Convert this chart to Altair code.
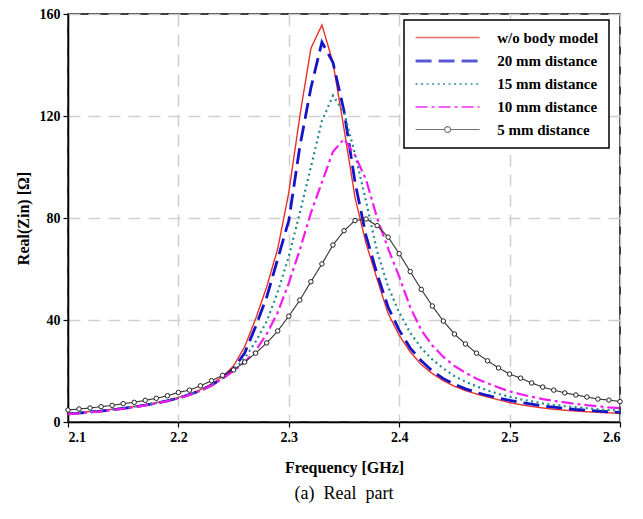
import altair as alt
import pandas as pd

freq = [2.10, 2.11, 2.12, 2.13, 2.14, 2.15, 2.16, 2.17, 2.18, 2.19,
        2.20, 2.21, 2.22, 2.23, 2.24, 2.25, 2.26, 2.27, 2.28, 2.29,
        2.30, 2.31, 2.32, 2.33, 2.34, 2.35, 2.36, 2.37, 2.38, 2.39,
        2.40, 2.41, 2.42, 2.43, 2.44, 2.45, 2.46, 2.47, 2.48, 2.49,
        2.50, 2.51, 2.52, 2.53, 2.54, 2.55, 2.56, 2.57, 2.58, 2.59,
        2.60]

wo_body = [3.4, 3.7, 4.1, 4.5, 5.0, 5.5, 6.1, 6.8, 7.6, 8.5,
           9.6, 11.0, 12.7, 14.9, 17.8, 22.0, 29.5, 40.5, 53.0, 68.0,
           90.0, 120.0, 146.5, 155.7, 141.0, 115.0, 88.0, 70.0, 56.0, 42.5,
           34.0, 27.5, 22.5, 19.0, 16.2, 14.0, 12.3, 11.0, 9.8, 8.7,
           7.6, 6.8, 6.1, 5.5, 5.0, 4.6, 4.3, 4.0, 3.8, 3.6,
           3.4]

d20 = [3.2, 3.5, 3.9, 4.3, 4.8, 5.3, 5.9, 6.6, 7.4, 8.3,
       9.4, 10.7, 12.3, 14.4, 17.2, 21.0, 27.0, 37.5, 49.0, 64.0,
       79.0, 108.0, 131.0, 149.0, 141.0, 122.0, 94.0, 73.0, 58.0, 45.0,
       36.0, 29.0, 24.0, 20.0, 17.0, 14.8, 13.0, 11.6, 10.4, 9.4,
       8.5, 7.7, 7.0, 6.3, 5.8, 5.3, 4.9, 4.6, 4.3, 4.0,
       3.8]

d15 = [3.3, 3.6, 4.0, 4.4, 4.9, 5.4, 6.0, 6.7, 7.5, 8.4,
       9.5, 10.8, 12.4, 14.5, 17.2, 20.5, 25.0, 31.5, 39.5, 51.0,
       65.0, 82.0, 100.0, 118.0, 128.0, 121.5, 105.0, 86.5, 67.0, 53.0,
       43.0, 35.0, 29.0, 24.5, 21.0, 18.0, 15.8, 14.0, 12.4, 11.0,
       9.9, 8.9, 8.1, 7.3, 6.7, 6.2, 5.8, 5.4, 5.0, 4.7,
       4.5]

d10 = [3.1, 3.4, 3.8, 4.2, 4.7, 5.2, 5.8, 6.5, 7.3, 8.2,
       9.3, 10.6, 12.2, 14.3, 17.0, 20.0, 23.5, 28.0, 34.5, 43.0,
       54.5, 67.5, 82.0, 94.0, 106.0, 111.0, 104.5, 95.0, 80.0, 68.0,
       57.0, 45.0, 36.0, 30.0, 25.5, 22.0, 19.3, 17.0, 15.2, 13.5,
       12.0, 10.9, 9.9, 9.0, 8.3, 7.7, 7.1, 6.6, 6.2, 5.7,
       5.4]

d5 = [4.7, 5.1, 5.5, 6.0, 6.5, 7.2, 7.7, 8.5, 9.3, 10.3,
      11.6, 12.5, 14.2, 16.2, 18.3, 20.4, 23.5, 27.0, 31.0, 35.7,
      41.5, 47.8, 55.0, 62.0, 69.4, 75.0, 79.0, 79.6, 77.0, 72.5,
      66.0, 59.0, 52.0, 45.5, 39.6, 34.5, 30.6, 27.0, 24.0, 21.2,
      18.8, 17.2, 15.3, 13.7, 12.5, 11.4, 10.6, 9.8, 9.0, 8.6,
      8.0]

series_names = ["w/o body model", "20 mm distance", "15 mm distance",
                "10 mm distance", "5 mm distance"]
series_values = [wo_body, d20, d15, d10, d5]
x_ticks = [2.1, 2.2, 2.3, 2.4, 2.5, 2.6]
y_ticks = [0, 40, 80, 120, 160]

colors = ["#e8302a", "#1414c8", "#1f8a8a", "#f01cf0", "#333333"]
dashes = [[1, 0], [16, 7], [2, 3.5], [12, 4, 3, 4], [1, 0]]
widths = [1.4, 2.8, 2.2, 2.2, 1.1]

rows = []
for order, (name, vals) in enumerate(zip(series_names, series_values)):
    for f, v in zip(freq, vals):
        rows.append({"freq": f, "value": v, "series": name, "order": order})
df = pd.DataFrame(rows)

SERIF = "Liberation Serif"
line_path = "M-5,0H5"
marker_path = ("M-5,0H-0.45M0.45,0H5M0.45,0A0.45,0.45,0,1,1,-0.45,0"
               "A0.45,0.45,0,1,1,0.45,0")
legend_shapes = [line_path, line_path, line_path, line_path, marker_path]

x_enc = alt.X("freq:Q",
              scale=alt.Scale(domain=[2.1, 2.6], nice=False, zero=False),
              axis=alt.Axis(values=x_ticks, format=".1f", title="Frequency [GHz]",
                            titlePadding=15))
y_enc = alt.Y("value:Q",
              scale=alt.Scale(domain=[0, 160], nice=False),
              axis=alt.Axis(values=y_ticks, title="Real(Zin) [Ω]", titlePadding=8))

legend = alt.Legend(
    title=None, orient="none", legendX=336, legendY=6,
    symbolSize=164,
    symbolOffset=25.6, labelOffset=41.6, rowPadding=7,
    padding=10, strokeColor="black", fillColor="white",
    symbolFillColor="white",
    labelFont=SERIF, labelFontWeight="bold", labelFontSize=15,
    labelColor="black", labelLimit=300,
)

lines = alt.Chart(df).mark_line(clip=True).encode(
    x=x_enc,
    y=y_enc,
    color=alt.Color("series:N", scale=alt.Scale(domain=series_names, range=colors),
                    legend=legend),
    strokeDash=alt.StrokeDash("series:N", scale=alt.Scale(domain=series_names, range=dashes),
                              legend=legend),
    strokeWidth=alt.StrokeWidth("series:N",
                                scale=alt.Scale(type="ordinal", domain=series_names, range=widths),
                                legend=legend),
    order=alt.Order("freq:Q"),
)

legend_shape_layer = alt.Chart(df).transform_filter("false").mark_point(
    filled=False
).encode(
    x="freq:Q",
    y="value:Q",
    shape=alt.Shape("series:N", scale=alt.Scale(domain=series_names, range=legend_shapes),
                    legend=legend),
)

points = alt.Chart(df).transform_filter(
    alt.datum.series == "5 mm distance"
).mark_point(shape="circle", filled=True, fill="white", stroke="#222222",
             strokeWidth=1, size=20, opacity=1).encode(
    x="freq:Q",
    y="value:Q",
)

chart = alt.layer(lines, legend_shape_layer, points).properties(
    width=552, height=408,
    padding={"left": 60, "top": 6, "right": 15, "bottom": 89},
    autosize=alt.AutoSizeParams(type="none"),
    background="white",
    title=alt.TitleParams("(a)\u00a0 Real\u00a0 part", orient="bottom", font=SERIF,
                          fontSize=18, fontWeight="normal", color="black", offset=10),
).configure_view(
    stroke="black", strokeWidth=1.5
).configure_axis(
    labelFont=SERIF, labelFontWeight="bold", labelFontSize=14, labelColor="black",
    titleFont=SERIF, titleFontWeight="bold", titleFontSize=16, titleColor="black",
    domainColor="black", domainWidth=1.5, tickColor="black", tickSize=5, tickWidth=1.2,
    grid=True, gridColor="#cfcfcf", gridDash=[12, 8], gridWidth=1.5,
    labelPadding=3,
).configure_legend(
    strokeWidth=1.5
)

chart.save("out.html", embed_options={"renderer": "svg", "actions": False})
